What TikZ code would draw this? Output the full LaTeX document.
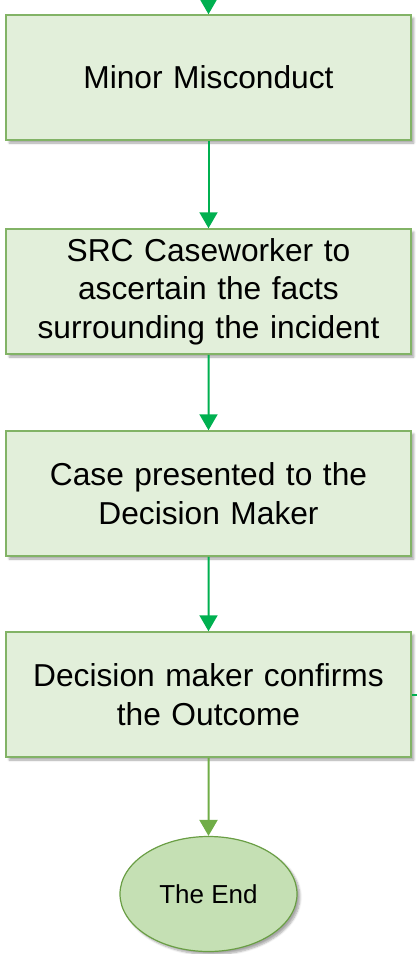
\documentclass[tikz,border=0pt]{standalone}
\usepackage{fontspec}
\setmainfont{Liberation Sans}
\usetikzlibrary{arrows.meta,shapes.geometric,shadows.blur}
\definecolor{boxfill}{HTML}{E2EFDA}
\definecolor{boxline}{HTML}{82B366}
\definecolor{endfill}{HTML}{C5E0B4}
\definecolor{endline}{HTML}{6A9E45}
\definecolor{flowgreen}{HTML}{00B050}
\definecolor{endarrow}{HTML}{70AD47}
\begin{document}
\begin{tikzpicture}[x=1pt,y=-1pt]
				\tikzstyle{step box}=[rectangle,draw=boxline,fill=boxfill,line width=1.5pt,
					minimum width=403pt,minimum height=125pt,text width=398pt,align=center,
					font=\fontsize{31.7}{38.5}\selectfont,blur shadow={shadow blur steps=6,shadow xshift=3pt,shadow yshift=-3pt,shadow opacity=35}]
				\tikzstyle{end node}=[ellipse,draw=endline,fill=endfill,line width=1.2pt,
					minimum width=177pt,minimum height=115pt,font=\fontsize{26}{30}\selectfont,
					blur shadow={shadow blur steps=6,shadow xshift=3pt,shadow yshift=-3pt,shadow opacity=35}]
				\tikzstyle{flow arrow}=[draw=flowgreen,line width=2pt,-{Triangle[width=18pt,length=16pt]}]
				\useasboundingbox(0,0)rectangle(417,954);
				\node(0)[step box] at (208.5,77.5){Minor Misconduct}
					[grow=down,edge from parent/.style={flow arrow},
					 level 1/.style={level distance=214pt},level 2/.style={level distance=202pt},
					 level 3/.style={level distance=201pt},level 4/.style={level distance=199.5pt}]
					child{node(1)[step box]{SRC Caseworker to\\ascertain the facts\\surrounding the incident}
						child{node(2)[step box]{Case presented to the\\Decision Maker}
							child{node(3)[step box]{Decision maker confirms\\the Outcome}
								child{node(4)[end node]{The End} edge from parent[draw=endarrow]}}}};
				\coordinate(in) at (208.5,-20);
				\coordinate(out) at (430,694.5);
				\draw[flow arrow](in)--(0);
				\draw[draw=flowgreen,line width=2pt](3.east)--(out);
			\end{tikzpicture}
\end{document}
